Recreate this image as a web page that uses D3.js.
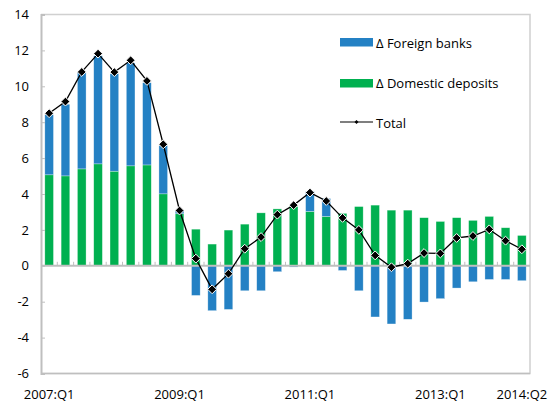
<!DOCTYPE html>
<html>
<head>
<meta charset="utf-8">
<script src="https://cdn.jsdelivr.net/npm/d3@7"></script>
<style>
  body { margin: 0; background: #fff; }
  text { font-family: "Open Sans", sans-serif; fill: #000; }
</style>
</head>
<body>
<svg id="chart" width="549" height="403"></svg>
<script>
const quarters = [
  '2007:Q1', '2007:Q2', '2007:Q3', '2007:Q4',
  '2008:Q1', '2008:Q2', '2008:Q3', '2008:Q4',
  '2009:Q1', '2009:Q2', '2009:Q3', '2009:Q4',
  '2010:Q1', '2010:Q2', '2010:Q3', '2010:Q4',
  '2011:Q1', '2011:Q2', '2011:Q3', '2011:Q4',
  '2012:Q1', '2012:Q2', '2012:Q3', '2012:Q4',
  '2013:Q1', '2013:Q2', '2013:Q3', '2013:Q4',
  '2014:Q1', '2014:Q2',
];
const domestic = [
  5.07, 5.01, 5.40, 5.68, 5.27, 5.57, 5.62, 4.01,
  2.90, 2.04, 1.21, 1.99, 2.32, 2.95, 3.17, 3.30,
  3.03, 2.75, 2.92, 3.30, 3.38, 3.10, 3.10, 2.68,
  2.47, 2.68, 2.53, 2.75, 2.12, 1.69,
];
const foreign = [
  3.35, 3.99, 5.37, 6.02, 5.43, 5.73, 4.58, 2.69,
  0.18, -1.65, -2.50, -2.43, -1.39, -1.39, -0.33, -0.07,
  1.12, 1.00, -0.26, -1.39, -2.85, -3.24, -2.98, -2.02,
  -1.83, -1.24, -0.89, -0.76, -0.76, -0.83,
];
const total = [
  8.50, 9.15, 10.80, 11.82, 10.79, 11.45, 10.30, 6.77,
  3.08, 0.40, -1.31, -0.44, 0.95, 1.60, 2.85, 3.38,
  4.08, 3.61, 2.67, 2.00, 0.58, -0.08, 0.12, 0.71,
  0.69, 1.55, 1.66, 2.03, 1.40, 0.92,
];
const xTickLabels = ['2007:Q1', '2009:Q1', '2011:Q1', '2013:Q1', '2014:Q2'];
const yTicks = [-6, -4, -2, 0, 2, 4, 6, 8, 10, 12, 14];

const blue = '#2481c4';
const green = '#00b050';
const frame = '#bfbfbf';

const margin = { top: 14.5, right: 19, bottom: 29.5, left: 41 };
const svg = d3.select('#chart');
const width = +svg.attr('width') - margin.left - margin.right;
const height = +svg.attr('height') - margin.top - margin.bottom;

const g = svg.append('g')
  .attr('transform', `translate(${margin.left},${margin.top})`);

const x = d3.scaleBand()
  .domain(quarters)
  .range([0, width])
  .paddingInner(0.47)
  .paddingOuter(0.235);
const step = x.step();

const y = d3.scaleLinear().domain([-6, 14]).range([height, 0]);

// frame: top and right sides light grey
g.append('path')
  .attr('d', `M0,0H${width}V${height}H0`)
  .attr('fill', 'none')
  .attr('stroke', '#d0d0d0')
  .attr('stroke-width', 1.5);

const rows = quarters.map((q, i) => ({
  q, dom: domestic[i], fgn: foreign[i], tot: total[i],
}));

// domestic deposits
g.selectAll('.bar-dom')
  .data(rows)
  .enter().append('rect')
    .attr('class', 'bar-dom')
    .attr('x', d => x(d.q))
    .attr('width', x.bandwidth())
    .attr('y', d => y(Math.max(0, d.dom)))
    .attr('height', d => Math.abs(y(d.dom) - y(0)))
    .attr('fill', green)
    .attr('stroke', '#fff')
    .attr('stroke-opacity', 0.5)
    .attr('stroke-width', 0.6);

// foreign banks, stacked on top when positive, below zero when negative
g.selectAll('.bar-fgn')
  .data(rows)
  .enter().append('rect')
    .attr('class', 'bar-fgn')
    .attr('x', d => x(d.q))
    .attr('width', x.bandwidth())
    .attr('y', d => d.fgn >= 0 ? y(d.dom + d.fgn) : y(0))
    .attr('height', d => d.fgn >= 0 ? y(d.dom) - y(d.dom + d.fgn) : y(d.fgn) - y(0))
    .attr('fill', blue)
    .attr('stroke', '#fff')
    .attr('stroke-opacity', 0.5)
    .attr('stroke-width', 0.6);

// left axis (plain hyphen for negatives, as in the original)
const yAxis = g.append('g')
  .call(d3.axisLeft(y).tickValues(yTicks).tickSize(-4).tickPadding(12)
    .tickFormat(d => String(d)));
yAxis.select('.domain').attr('stroke', frame).attr('stroke-width', 2);
yAxis.selectAll('.tick line').attr('stroke', frame).attr('stroke-width', 1);
yAxis.selectAll('.tick text')
  .attr('font-size', '13px')
  .attr('font-family', '"Open Sans", sans-serif');

// bottom frame line
g.append('line')
  .attr('x1', 0).attr('x2', width)
  .attr('y1', height).attr('y2', height)
  .attr('stroke', frame).attr('stroke-width', 1.5);

// zero line with small ticks at category boundaries
g.append('line')
  .attr('x1', 0).attr('x2', width)
  .attr('y1', y(0)).attr('y2', y(0))
  .attr('stroke', frame).attr('stroke-width', 2);

g.selectAll('.xtick')
  .data(quarters.slice(1))
  .enter().append('line')
    .attr('class', 'xtick')
    .attr('x1', d => x(d) - step * 0.235)
    .attr('x2', d => x(d) - step * 0.235)
    .attr('y1', y(0))
    .attr('y2', y(0) - 4)
    .attr('stroke', frame)
    .attr('stroke-width', 1);

// x labels along the bottom
g.selectAll('.xlabel')
  .data(xTickLabels)
  .enter().append('text')
    .attr('class', 'xlabel')
    .attr('x', d => x(d) + x.bandwidth() / 2)
    .attr('y', height + 25)
    .attr('text-anchor', 'middle')
    .attr('font-size', '13px')
    .text(d => d);

// total line
const line = d3.line()
  .x(d => x(d.q) + x.bandwidth() / 2)
  .y(d => y(d.tot));

g.append('path')
  .datum(rows)
  .attr('d', line)
  .attr('fill', 'none')
  .attr('stroke', '#000')
  .attr('stroke-width', 1.3);

const diamond = d3.symbol().type(d3.symbolDiamond2).size(50);
g.selectAll('.pt')
  .data(rows)
  .enter().append('path')
    .attr('class', 'pt')
    .attr('transform', d => `translate(${x(d.q) + x.bandwidth() / 2},${y(d.tot)})`)
    .attr('d', diamond)
    .attr('fill', '#000')
    .attr('stroke', '#fff')
    .attr('stroke-width', 1);

// legend
const legend = svg.append('g').attr('transform', 'translate(340,0)');
legend.append('rect')
  .attr('x', 0).attr('y', 38).attr('width', 33).attr('height', 8.5)
  .attr('fill', blue);
legend.append('text')
  .attr('x', 36).attr('y', 48)
  .attr('font-size', '13px')
  .text('Δ Foreign banks');
legend.append('rect')
  .attr('x', 0).attr('y', 79).attr('width', 33).attr('height', 8.5)
  .attr('fill', green);
legend.append('text')
  .attr('x', 36).attr('y', 88)
  .attr('font-size', '13px')
  .text('Δ Domestic deposits');
legend.append('line')
  .attr('x1', 0).attr('x2', 33).attr('y1', 122).attr('y2', 122)
  .attr('stroke', '#000').attr('stroke-width', 1.2);
legend.append('path')
  .attr('transform', 'translate(16.5,122)')
  .attr('d', d3.symbol().type(d3.symbolDiamond2).size(10))
  .attr('fill', '#000');
legend.append('text')
  .attr('x', 36).attr('y', 128)
  .attr('font-size', '13px')
  .text('Total');
</script>
</body>
</html>
